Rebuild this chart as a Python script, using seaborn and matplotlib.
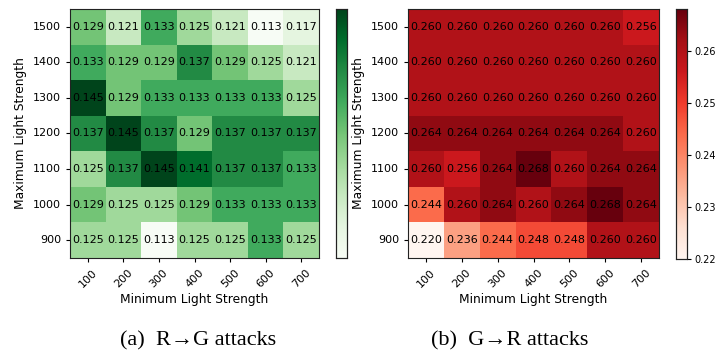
import numpy as np
import pandas as pd
import matplotlib
matplotlib.use("Agg")
import matplotlib.pyplot as plt
import seaborn as sns

min_strength = [100, 200, 300, 400, 500, 600, 700]
max_strength = [1500, 1400, 1300, 1200, 1100, 1000, 900]

rg_values = [
    [0.129, 0.121, 0.133, 0.125, 0.121, 0.113, 0.117],
    [0.133, 0.129, 0.129, 0.137, 0.129, 0.125, 0.121],
    [0.145, 0.129, 0.133, 0.133, 0.133, 0.133, 0.125],
    [0.137, 0.145, 0.137, 0.129, 0.137, 0.137, 0.137],
    [0.125, 0.137, 0.145, 0.141, 0.137, 0.137, 0.133],
    [0.129, 0.125, 0.125, 0.129, 0.133, 0.133, 0.133],
    [0.125, 0.125, 0.113, 0.125, 0.125, 0.133, 0.125],
]
gr_values = [
    [0.260, 0.260, 0.260, 0.260, 0.260, 0.260, 0.256],
    [0.260, 0.260, 0.260, 0.260, 0.260, 0.260, 0.260],
    [0.260, 0.260, 0.260, 0.260, 0.260, 0.260, 0.260],
    [0.264, 0.264, 0.264, 0.264, 0.264, 0.264, 0.260],
    [0.260, 0.256, 0.264, 0.268, 0.260, 0.264, 0.264],
    [0.244, 0.260, 0.264, 0.260, 0.264, 0.268, 0.264],
    [0.220, 0.236, 0.244, 0.248, 0.248, 0.260, 0.260],
]
colorbar_ticks_gr = [0.22, 0.23, 0.24, 0.25, 0.26]
captions = ["(a)  R\u2192G attacks", "(b)  G\u2192R attacks"]

W, H = 728, 363
fig = plt.figure(figsize=(W / 100, H / 100), dpi=100)

def box(x0, y0, x1, y1):
    return [x0 / W, 1 - y1 / H, (x1 - x0) / W, (y1 - y0) / H]

ax1 = fig.add_axes(box(70, 9, 319, 258))
cax1 = fig.add_axes(box(336, 9, 347, 258))
ax2 = fig.add_axes(box(408, 9, 659, 258))
cax2 = fig.add_axes(box(676, 9, 687, 259))

df1 = pd.DataFrame(rg_values, index=max_strength, columns=min_strength)
df2 = pd.DataFrame(gr_values, index=max_strength, columns=min_strength)

sns.heatmap(df1, ax=ax1, cbar_ax=cax1, cmap="Greens", annot=True, fmt=".3f",
            annot_kws={"fontsize": 8, "color": "black"})
sns.heatmap(df2, ax=ax2, cbar_ax=cax2, cmap="Reds", annot=True, fmt=".3f",
            vmin=0.22, annot_kws={"fontsize": 8, "color": "black"})

for ax in (ax1, ax2):
    for s in ax.spines.values():
        s.set_visible(True)
        s.set_color("#222222")
        s.set_linewidth(0.8)
    ax.set_xlabel("Minimum Light Strength", fontsize=8.8, labelpad=3)
    ax.set_ylabel("Maximum Light Strength", fontsize=8.8)
    ax.tick_params(axis="both", labelsize=8, length=3)
    plt.setp(ax.get_xticklabels(), rotation=45, ha="center")
    plt.setp(ax.get_yticklabels(), rotation=0)

cax1.set_yticks([])
for c in (cax1, cax2):
    for s in c.spines.values():
        s.set_visible(True)
        s.set_color("#222222")
        s.set_linewidth(0.8)
cax2.set_yticks(colorbar_ticks_gr)
cax2.set_yticklabels([f"{t:.2f}" for t in colorbar_ticks_gr])
cax2.tick_params(labelsize=7, length=3, pad=2)

fig.text(198 / W, 1 - 341 / H, captions[0], ha="center", va="center",
         fontsize=16, family=["Liberation Serif", "DejaVu Serif"])
fig.text(510 / W, 1 - 341 / H, captions[1], ha="center", va="center",
         fontsize=16, family=["Liberation Serif", "DejaVu Serif"])

fig.savefig("out.png", dpi=100)
